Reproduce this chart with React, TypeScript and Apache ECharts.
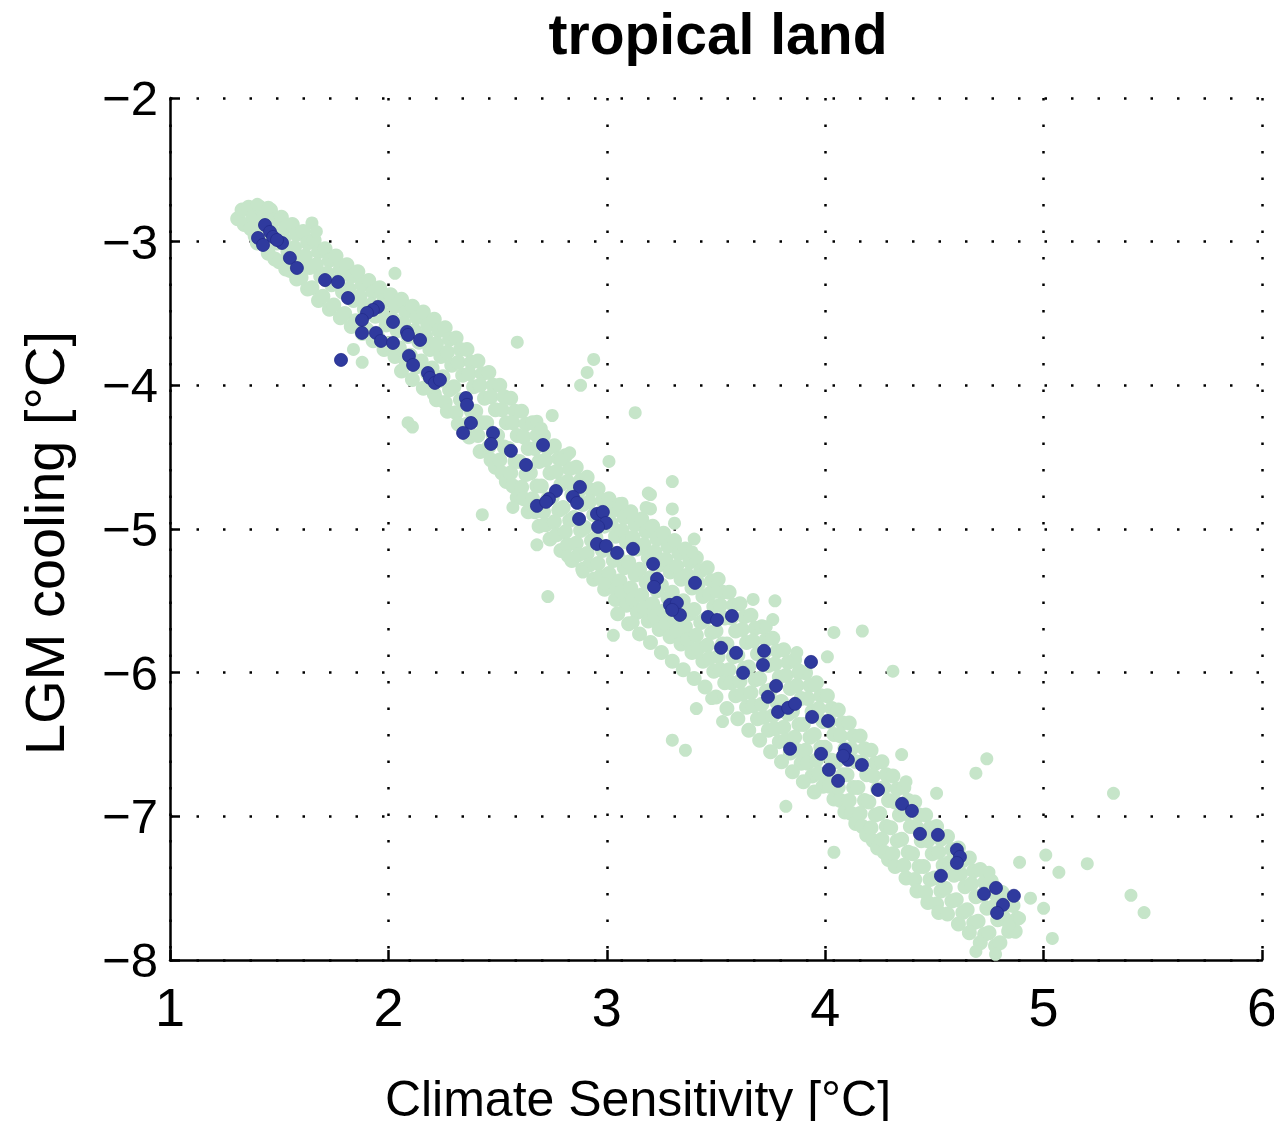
import React, { useEffect, useRef } from "react";
import * as echarts from "echarts";

const chartTitle = "tropical land";
const xAxisTitle = "Climate Sensitivity [°C]";
const yAxisTitle = "LGM cooling [°C]";
const xTicks = [1, 2, 3, 4, 5, 6];
const xTickLabels = ["1", "2", "3", "4", "5", "6"];
const yTicks = [-8, -7, -6, -5, -4, -3, -2];
const yTickLabels = ["\u22128", "\u22127", "\u22126", "\u22125", "\u22124", "\u22123", "\u22122"];

// dark blue points
const bluePoints: number[][] = [
  [1.435,-2.884],[1.458,-2.932],[1.472,-2.967],[1.403,-2.974],[1.426,-3.023],[1.513,-3.009],[1.49,-2.988],
  [1.549,-3.113],[1.581,-3.183],[1.71,-3.267],[1.769,-3.28],[1.815,-3.392],[1.952,-3.454],[1.929,-3.475],
  [1.902,-3.496],[1.879,-3.545],[2.021,-3.559],[2.085,-3.628],[2.09,-3.649],[2.145,-3.684],[1.879,-3.635],
  [1.943,-3.635],[1.966,-3.691],[2.021,-3.705],[1.783,-3.823],[2.094,-3.795],[2.113,-3.858],[2.181,-3.914],
  [2.19,-3.948],[2.213,-3.983],[2.236,-3.962],[2.355,-4.088],[2.36,-4.136],[2.378,-4.262],[2.342,-4.331],
  [2.479,-4.331],[2.47,-4.408],[2.561,-4.456],[2.63,-4.554],[2.708,-4.415],[2.767,-4.735],[2.735,-4.791],
  [2.68,-4.839],[2.722,-4.811],[2.877,-4.707],[2.845,-4.777],[2.864,-4.818],[2.873,-4.93],[2.955,-4.895],
  [2.982,-4.881],[2.996,-4.958],[2.96,-4.985],[2.955,-5.104],[2.996,-5.118],[3.047,-5.166],[3.12,-5.138],
  [3.212,-5.243],[3.23,-5.347],[3.216,-5.403],[3.404,-5.375],[3.289,-5.528],[3.321,-5.514],[3.335,-5.598],
  [3.299,-5.563],[3.463,-5.612],[3.505,-5.633],[3.573,-5.605],[3.523,-5.827],[3.592,-5.862],[3.72,-5.848],
  [3.715,-5.946],[3.624,-6.001],[3.935,-5.925],[3.775,-6.092],[3.738,-6.168],[3.784,-6.273],[3.83,-6.245],
  [3.862,-6.217],[3.94,-6.308],[4.013,-6.336],[3.839,-6.53],[3.981,-6.565],[4.091,-6.537],[4.104,-6.607],
  [4.082,-6.579],[4.168,-6.642],[4.017,-6.676],[4.059,-6.753],[4.242,-6.816],[4.352,-6.913],[4.397,-6.962],
  [4.434,-7.122],[4.516,-7.129],[4.603,-7.233],[4.617,-7.282],[4.603,-7.324],[4.53,-7.414],[4.727,-7.539],
  [4.782,-7.498],[4.864,-7.553],[4.814,-7.616],[4.787,-7.672]
];

// light green cloud (strip by strip)
const greenCore: number[][] = [
  [1.31,-2.84],[1.33,-2.78],[1.34,-2.88],
  [1.36,-2.76],[1.38,-2.83],[1.37,-2.91],[1.39,-2.96],
  [1.41,-2.76],[1.43,-2.82],[1.42,-2.90],[1.44,-2.97],[1.40,-3.01],
  [1.46,-2.78],[1.48,-2.85],[1.47,-2.93],[1.49,-3.01],[1.45,-3.08],[1.48,-3.12],
  [1.51,-2.83],[1.53,-2.90],[1.52,-2.98],[1.54,-3.07],[1.50,-3.14],[1.53,-3.19],
  [1.56,-2.88],[1.58,-2.95],[1.57,-3.04],[1.59,-3.12],[1.55,-3.20],[1.58,-3.26],
  [1.61,-2.93],[1.63,-3.01],[1.62,-3.10],[1.64,-3.18],[1.60,-3.25],[1.63,-3.33],
  [1.66,-2.99],[1.68,-3.07],[1.67,-3.16],[1.69,-3.24],[1.65,-3.32],[1.68,-3.41],
  [1.71,-3.05],[1.73,-3.13],[1.72,-3.22],[1.74,-3.30],[1.70,-3.38],[1.73,-3.47],
  [1.76,-3.10],[1.78,-3.19],[1.77,-3.27],[1.79,-3.35],[1.75,-3.44],[1.78,-3.53],
  [1.81,-3.16],[1.83,-3.24],[1.82,-3.33],[1.84,-3.41],[1.80,-3.50],[1.83,-3.59],
  [1.86,-3.21],[1.88,-3.30],[1.87,-3.38],[1.89,-3.47],[1.85,-3.55],[1.88,-3.64],
  [1.91,-3.27],[1.93,-3.35],[1.92,-3.44],[1.94,-3.52],[1.90,-3.61],[1.93,-3.69],
  [1.96,-3.32],[1.98,-3.41],[1.97,-3.49],[1.99,-3.58],[1.95,-3.66],[1.98,-3.75],
  [2.01,-3.37],[2.03,-3.45],[2.02,-3.54],[2.04,-3.62],[2.00,-3.71],[2.03,-3.80],
  [2.06,-3.40],[2.08,-3.49],[2.07,-3.57],[2.09,-3.66],[2.05,-3.74],[2.08,-3.83],[2.06,-3.90],
  [2.11,-3.45],[2.13,-3.53],[2.12,-3.62],[2.14,-3.70],[2.10,-3.79],[2.13,-3.87],[2.11,-3.96],
  [2.16,-3.49],[2.18,-3.58],[2.17,-3.66],[2.19,-3.75],[2.15,-3.83],[2.18,-3.92],[2.16,-4.02],
  [2.21,-3.54],[2.23,-3.62],[2.22,-3.71],[2.24,-3.80],[2.20,-3.88],[2.23,-3.97],[2.21,-4.06],[2.22,-4.10],
  [2.26,-3.60],[2.28,-3.68],[2.27,-3.77],[2.29,-3.86],[2.25,-3.94],[2.28,-4.03],[2.26,-4.12],[2.27,-4.18],
  [2.31,-3.67],[2.33,-3.75],[2.32,-3.84],[2.34,-3.93],[2.30,-4.01],[2.33,-4.10],[2.31,-4.19],[2.32,-4.27],
  [2.36,-3.75],[2.38,-3.84],[2.37,-3.92],[2.39,-4.01],[2.35,-4.10],[2.38,-4.18],[2.36,-4.27],[2.37,-4.36],
  [2.41,-3.83],[2.43,-3.92],[2.42,-4.00],[2.44,-4.09],[2.40,-4.18],[2.43,-4.26],[2.41,-4.35],[2.42,-4.46],
  [2.46,-3.91],[2.48,-4.00],[2.47,-4.08],[2.49,-4.17],[2.45,-4.26],[2.48,-4.35],[2.46,-4.43],[2.47,-4.52],[2.49,-4.57],
  [2.51,-4.00],[2.53,-4.08],[2.52,-4.17],[2.54,-4.26],[2.50,-4.35],[2.53,-4.43],[2.51,-4.52],[2.52,-4.61],[2.54,-4.67],
  [2.56,-4.09],[2.58,-4.18],[2.57,-4.26],[2.59,-4.35],[2.55,-4.44],[2.58,-4.53],[2.56,-4.61],[2.57,-4.70],[2.59,-4.78],
  [2.61,-4.18],[2.63,-4.27],[2.62,-4.36],[2.64,-4.44],[2.60,-4.53],[2.63,-4.62],[2.61,-4.71],[2.62,-4.79],[2.64,-4.88],
  [2.66,-4.26],[2.68,-4.35],[2.67,-4.44],[2.69,-4.53],[2.65,-4.61],[2.68,-4.70],[2.66,-4.79],[2.67,-4.88],[2.69,-4.98],
  [2.71,-4.35],[2.73,-4.44],[2.72,-4.52],[2.74,-4.61],[2.70,-4.70],[2.73,-4.79],[2.71,-4.88],[2.72,-4.97],[2.74,-5.07],
  [2.76,-4.42],[2.78,-4.51],[2.77,-4.60],[2.79,-4.69],[2.75,-4.78],[2.78,-4.87],[2.76,-4.95],[2.77,-5.04],[2.79,-5.15],
  [2.81,-4.49],[2.83,-4.58],[2.82,-4.67],[2.84,-4.76],[2.80,-4.85],[2.83,-4.94],[2.81,-5.02],[2.82,-5.11],[2.84,-5.22],
  [2.86,-4.57],[2.88,-4.66],[2.87,-4.74],[2.89,-4.83],[2.85,-4.92],[2.88,-5.01],[2.86,-5.10],[2.87,-5.18],[2.89,-5.28],
  [2.91,-4.64],[2.93,-4.73],[2.92,-4.81],[2.94,-4.90],[2.90,-4.99],[2.93,-5.08],[2.91,-5.17],[2.92,-5.25],[2.94,-5.35],
  [2.96,-4.72],[2.98,-4.80],[2.97,-4.89],[2.99,-4.98],[2.95,-5.06],[2.98,-5.15],[2.96,-5.24],[2.97,-5.33],[2.99,-5.42],
  [3.01,-4.79],[3.03,-4.87],[3.02,-4.96],[3.04,-5.05],[3.00,-5.13],[3.03,-5.22],[3.01,-5.31],[3.02,-5.40],[3.04,-5.49],
  [3.06,-4.83],[3.08,-4.92],[3.07,-5.01],[3.09,-5.09],[3.05,-5.18],[3.08,-5.27],[3.06,-5.36],[3.07,-5.44],[3.09,-5.53],[3.05,-5.59],
  [3.11,-4.88],[3.13,-4.97],[3.12,-5.06],[3.14,-5.14],[3.10,-5.23],[3.13,-5.32],[3.11,-5.41],[3.12,-5.49],[3.14,-5.58],[3.10,-5.66],
  [3.16,-4.93],[3.18,-5.02],[3.17,-5.11],[3.19,-5.20],[3.15,-5.28],[3.18,-5.37],[3.16,-5.46],[3.17,-5.55],[3.19,-5.64],[3.15,-5.73],
  [3.21,-4.98],[3.23,-5.07],[3.22,-5.16],[3.24,-5.25],[3.20,-5.34],[3.23,-5.43],[3.21,-5.52],[3.22,-5.61],[3.24,-5.70],[3.20,-5.79],
  [3.26,-5.03],[3.28,-5.12],[3.27,-5.21],[3.29,-5.30],[3.25,-5.39],[3.28,-5.48],[3.26,-5.57],[3.27,-5.66],[3.29,-5.75],[3.25,-5.86],
  [3.31,-5.08],[3.33,-5.17],[3.32,-5.26],[3.34,-5.35],[3.30,-5.44],[3.33,-5.53],[3.31,-5.62],[3.32,-5.71],[3.34,-5.80],[3.30,-5.92],
  [3.36,-5.14],[3.38,-5.23],[3.37,-5.32],[3.39,-5.41],[3.35,-5.50],[3.38,-5.59],[3.36,-5.68],[3.37,-5.77],[3.39,-5.86],[3.35,-5.98],
  [3.41,-5.20],[3.43,-5.29],[3.42,-5.38],[3.44,-5.47],[3.40,-5.56],[3.43,-5.65],[3.41,-5.74],[3.42,-5.83],[3.44,-5.92],[3.40,-6.04],
  [3.46,-5.27],[3.48,-5.36],[3.47,-5.45],[3.49,-5.54],[3.45,-5.63],[3.48,-5.72],[3.46,-5.81],[3.47,-5.90],[3.49,-5.99],[3.45,-6.10],
  [3.51,-5.35],[3.53,-5.44],[3.52,-5.53],[3.54,-5.62],[3.50,-5.71],[3.53,-5.80],[3.51,-5.89],[3.52,-5.98],[3.54,-6.07],[3.50,-6.17],
  [3.56,-5.44],[3.58,-5.53],[3.57,-5.62],[3.59,-5.71],[3.55,-5.80],[3.58,-5.89],[3.56,-5.98],[3.57,-6.07],[3.59,-6.16],[3.55,-6.25],
  [3.61,-5.52],[3.63,-5.61],[3.62,-5.70],[3.64,-5.79],[3.60,-5.88],[3.63,-5.97],[3.61,-6.06],[3.62,-6.15],[3.64,-6.24],[3.60,-6.32],
  [3.66,-5.60],[3.68,-5.69],[3.67,-5.78],[3.69,-5.87],[3.65,-5.96],[3.68,-6.05],[3.66,-6.14],[3.67,-6.23],[3.69,-6.32],[3.65,-6.40],
  [3.71,-5.68],[3.73,-5.77],[3.72,-5.86],[3.74,-5.95],[3.70,-6.04],[3.73,-6.13],[3.71,-6.22],[3.72,-6.31],[3.74,-6.40],[3.70,-6.47],
  [3.76,-5.76],[3.78,-5.85],[3.77,-5.94],[3.79,-6.03],[3.75,-6.12],[3.78,-6.21],[3.76,-6.30],[3.77,-6.39],[3.79,-6.48],[3.75,-6.55],
  [3.81,-5.84],[3.83,-5.93],[3.82,-6.02],[3.84,-6.11],[3.80,-6.20],[3.83,-6.29],[3.81,-6.38],[3.82,-6.47],[3.84,-6.56],[3.80,-6.62],
  [3.86,-5.91],[3.88,-6.00],[3.87,-6.09],[3.89,-6.18],[3.85,-6.27],[3.88,-6.36],[3.86,-6.45],[3.87,-6.54],[3.89,-6.63],[3.85,-6.69],
  [3.91,-6.00],[3.93,-6.09],[3.92,-6.18],[3.94,-6.27],[3.90,-6.36],[3.93,-6.45],[3.91,-6.54],[3.92,-6.63],[3.94,-6.72],[3.90,-6.76],
  [3.96,-6.07],[3.98,-6.16],[3.97,-6.25],[3.99,-6.34],[3.95,-6.43],[3.98,-6.52],[3.96,-6.61],[3.97,-6.70],[3.99,-6.79],[3.95,-6.83],
  [4.01,-6.16],[4.03,-6.25],[4.02,-6.34],[4.04,-6.43],[4.00,-6.52],[4.03,-6.61],[4.01,-6.70],[4.02,-6.79],[4.04,-6.88],
  [4.06,-6.26],[4.08,-6.35],[4.07,-6.44],[4.09,-6.53],[4.05,-6.62],[4.08,-6.71],[4.06,-6.80],[4.07,-6.89],[4.09,-6.97],
  [4.11,-6.35],[4.13,-6.44],[4.12,-6.53],[4.14,-6.62],[4.10,-6.71],[4.13,-6.80],[4.11,-6.89],[4.12,-6.98],[4.14,-7.05],
  [4.16,-6.44],[4.18,-6.53],[4.17,-6.62],[4.19,-6.71],[4.15,-6.80],[4.18,-6.89],[4.16,-6.98],[4.17,-7.07],[4.19,-7.13],
  [4.21,-6.54],[4.23,-6.63],[4.22,-6.72],[4.24,-6.81],[4.20,-6.90],[4.23,-6.99],[4.21,-7.08],[4.22,-7.17],[4.24,-7.22],
  [4.26,-6.62],[4.28,-6.71],[4.27,-6.80],[4.29,-6.89],[4.25,-6.98],[4.28,-7.07],[4.26,-7.16],[4.27,-7.25],[4.29,-7.30],
  [4.31,-6.72],[4.33,-6.81],[4.32,-6.90],[4.34,-6.99],[4.30,-7.08],[4.33,-7.17],[4.31,-7.26],[4.32,-7.35],
  [4.36,-6.80],[4.38,-6.89],[4.37,-6.98],[4.39,-7.07],[4.35,-7.16],[4.38,-7.25],[4.36,-7.34],[4.37,-7.43],
  [4.41,-6.90],[4.43,-6.99],[4.42,-7.08],[4.44,-7.17],[4.40,-7.26],[4.43,-7.35],[4.41,-7.44],[4.42,-7.52],
  [4.46,-6.99],[4.48,-7.08],[4.47,-7.17],[4.49,-7.26],[4.45,-7.35],[4.48,-7.44],[4.46,-7.53],[4.47,-7.60],
  [4.51,-7.07],[4.53,-7.16],[4.52,-7.25],[4.54,-7.34],[4.50,-7.43],[4.53,-7.52],[4.51,-7.61],[4.52,-7.67],
  [4.56,-7.14],[4.58,-7.23],[4.57,-7.32],[4.59,-7.41],[4.55,-7.50],[4.58,-7.59],[4.56,-7.68],
  [4.61,-7.22],[4.63,-7.31],[4.62,-7.40],[4.64,-7.49],[4.60,-7.58],[4.63,-7.67],[4.61,-7.75],
  [4.66,-7.29],[4.68,-7.38],[4.67,-7.47],[4.69,-7.56],[4.65,-7.65],[4.68,-7.74],[4.66,-7.81],
  [4.71,-7.37],[4.73,-7.46],[4.72,-7.55],[4.74,-7.64],[4.70,-7.73],[4.73,-7.82],[4.71,-7.88],
  [4.76,-7.45],[4.78,-7.54],[4.77,-7.63],[4.79,-7.72],[4.75,-7.81],[4.78,-7.90],
  [4.81,-7.53],[4.83,-7.62],[4.82,-7.71],[4.84,-7.80],[4.80,-7.88],
  [4.86,-7.62],[4.88,-7.71],[4.87,-7.80]
];

// scattered light green points away from the core
const greenSparse: number[][] = [
  [2.03,-3.22],[2.59,-3.70],[2.94,-3.82],[2.91,-3.91],[2.88,-4.00],[3.13,-4.19],[3.01,-4.53],[3.30,-4.67],
  [3.20,-4.76],[3.20,-4.86],[2.43,-4.90],[2.57,-4.85],[2.73,-5.47],[2.09,-4.26],[2.11,-4.29],[3.03,-5.74],
  [3.12,-5.65],[3.30,-6.47],[3.36,-6.54],[3.41,-6.25],[3.48,-6.18],[3.53,-6.34],[4.04,-5.72],[4.17,-5.71],
  [4.31,-5.99],[3.77,-5.50],[3.76,-5.63],[3.73,-5.68],[3.87,-5.86],[4.01,-5.89],[4.35,-6.57],[4.37,-6.76],
  [4.51,-6.84],[4.74,-6.60],[4.69,-6.70],[5.32,-6.84],[4.04,-7.25],[3.82,-6.93],[5.01,-7.27],[5.07,-7.39],
  [5.20,-7.33],[5.40,-7.55],[5.46,-7.67],[4.89,-7.32],[4.94,-7.57],[5.00,-7.64],[4.89,-7.71],[5.04,-7.85],
  [4.84,-7.76],[4.78,-7.96],[4.69,-7.94],[4.75,-7.39],[3.39,-5.16],[3.50,-5.44],[3.67,-5.49],[3.88,-5.98],
  [3.95,-6.09],[1.84,-3.75],[1.88,-3.84],[2.75,-4.21],[2.68,-4.25],[2.70,-4.30],[2.79,-4.52],[2.83,-4.47],
  [3.07,-4.82],[3.19,-4.75],[3.18,-4.85],[3.30,-4.86],[3.31,-4.96],[3.40,-5.07],[2.68,-5.11],[2.82,-5.19],
  [2.89,-5.30],[2.99,-5.38],[3.12,-5.65],[1.40,-2.74],[1.45,-2.76],[1.65,-2.87],[1.67,-2.93]
];

const App: React.FC = () => {
  const ref = useRef<HTMLDivElement>(null);
  useEffect(() => {
    if (!ref.current) return;
    const chart = echarts.init(ref.current, undefined, { renderer: "svg" });
    const dotted = { color: "#000", width: 2.5, type: [2.5, 24] as number[] };
    const green = "#c6e5c9";
    chart.setOption({
      animation: false,
      backgroundColor: "#ffffff",
      grid: { left: 170, right: 20, top: 98, bottom: 169, containLabel: false },
      xAxis: {
        type: "value",
        min: xTicks[0],
        max: xTicks[xTicks.length - 1],
        interval: 1,
        axisLine: { show: true, onZero: false, lineStyle: { color: "#000", width: 2.5 } },
        axisTick: { show: true, inside: true, length: 10, lineStyle: { color: "#000", width: 2.5 } },
        axisLabel: {
          color: "#000",
          fontSize: 54,
          fontFamily: "Liberation Sans",
          margin: 20,
          formatter: (v: number) => xTickLabels[xTicks.indexOf(v)] ?? "",
        },
        splitLine: { show: true, lineStyle: dotted },
      },
      yAxis: {
        type: "value",
        min: yTicks[0],
        max: yTicks[yTicks.length - 1],
        interval: 1,
        axisLine: { show: true, onZero: false, lineStyle: { color: "#000", width: 2.5 } },
        axisTick: { show: true, inside: true, length: 10, lineStyle: { color: "#000", width: 2.5 } },
        axisLabel: {
          color: "#000",
          fontSize: 49,
          fontFamily: "Liberation Sans",
          margin: 12,
          formatter: (v: number) => yTickLabels[yTicks.indexOf(v)] ?? "",
        },
        splitLine: { show: true, lineStyle: dotted },
      },
      graphic: [
        {
          type: "text",
          x: 718,
          y: 34,
          style: {
            text: chartTitle,
            font: 'bold 57px "Liberation Sans"',
            fill: "#000",
            textAlign: "center",
            textVerticalAlign: "middle",
          },
        },
        {
          type: "text",
          x: 638,
          y: 1099,
          style: {
            text: xAxisTitle,
            font: '50px "Liberation Sans"',
            fill: "#000",
            textAlign: "center",
            textVerticalAlign: "middle",
          },
        },
        {
          type: "text",
          x: 44,
          y: 543,
          rotation: Math.PI / 2,
          style: {
            text: yAxisTitle,
            font: '56px "Liberation Sans"',
            fill: "#000",
            textAlign: "center",
            textVerticalAlign: "middle",
          },
        },
      ],
      series: [
        {
          type: "scatter",
          name: "all",
          data: greenCore,
          symbol: "circle",
          symbolSize: 15,
          itemStyle: { color: green, opacity: 1 },
          z: 2,
        },
        {
          type: "scatter",
          name: "all-sparse",
          data: greenSparse,
          symbol: "circle",
          symbolSize: 13,
          itemStyle: { color: green, opacity: 1 },
          z: 2,
        },
        {
          type: "scatter",
          name: "selected",
          data: bluePoints,
          symbol: "circle",
          symbolSize: 13,
          itemStyle: { color: "#2f3a9e", borderColor: "#232c8a", borderWidth: 0.8, opacity: 1 },
          z: 3,
        },
      ],
    });
    return () => chart.dispose();
  }, []);
  return <div ref={ref} style={{ width: 1282, height: 1129, margin: -8 }} />;
};

export default App;
